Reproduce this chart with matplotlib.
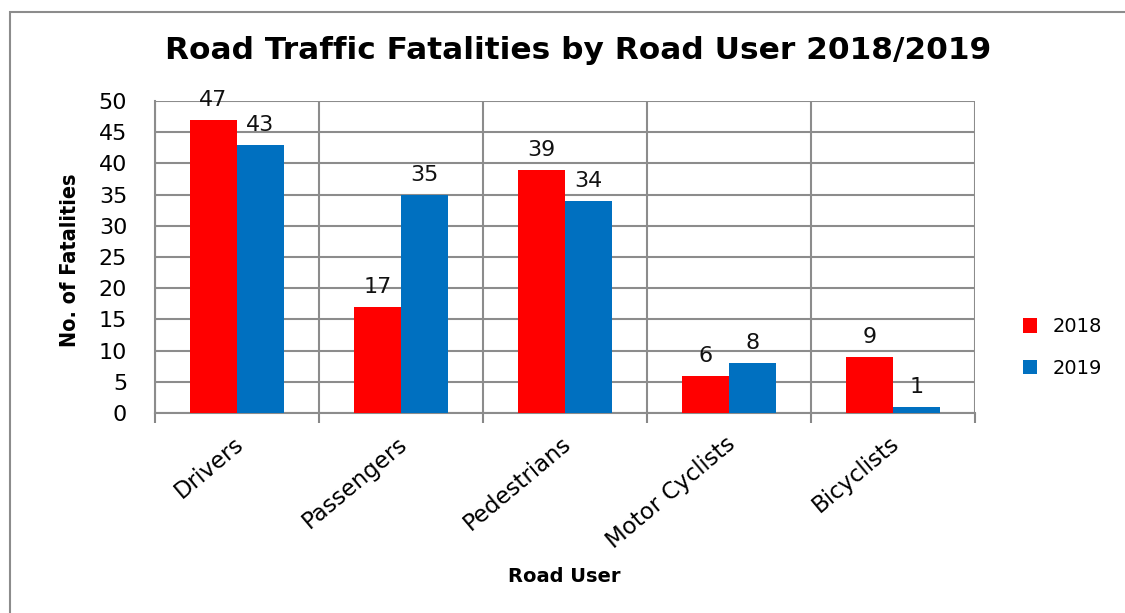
import matplotlib.pyplot as plt
from matplotlib.patches import Rectangle
import numpy as np

# data
road_users = ["Drivers", "Passengers", "Pedestrians", "Motor Cyclists", "Bicyclists"]
fatalities_2018 = [47, 17, 39, 6, 9]
fatalities_2019 = [43, 35, 34, 8, 1]
years = ["2018", "2019"]
colors = ["#FF0000", "#0070C0"]

fig = plt.figure(figsize=(11.25, 6.13), dpi=100)
ax = fig.add_axes([0.1378, 0.3263, 0.7289, 0.5089])

x = np.arange(len(road_users))
w = 0.287
b1 = ax.bar(x - w / 2, fatalities_2018, w, color=colors[0], label=years[0], zorder=3)
b2 = ax.bar(x + w / 2, fatalities_2019, w, color=colors[1], label=years[1], zorder=3)

for bars in (b1, b2):
    for bar in bars:
        h = bar.get_height()
        ax.annotate(f"{h:g}", (bar.get_x() + bar.get_width() / 2, h),
                    xytext=(0, 7), textcoords="offset points",
                    ha="center", va="bottom", fontsize=16, color="#111111")

ax.set_xlim(-0.5, len(road_users) - 0.5)
ax.set_ylim(0, 50)
ax.set_yticks(range(0, 51, 5))
ax.tick_params(axis="y", length=0, labelsize=16, pad=20)

# category boundaries as gridlines / tick marks
bounds = np.arange(-0.5, len(road_users), 1.0)
ax.set_xticks(bounds, minor=True)
ax.set_xticks(x + 0.02)
ax.set_xticklabels(road_users, rotation=40, ha="right", va="center",
                   rotation_mode="anchor", fontsize=16.5)
ax.tick_params(axis="x", which="major", length=0, pad=20)
ax.tick_params(axis="x", which="minor", length=7, color="#888888", width=1.5)
ax.grid(axis="y", color="#8c8c8c", linewidth=1.5, zorder=0)
ax.grid(axis="x", which="minor", color="#8c8c8c", linewidth=1.5, zorder=0)
ax.grid(axis="x", which="major", visible=False)

for side in ("top", "right"):
    ax.spines[side].set_visible(False)
for side in ("left", "bottom"):
    ax.spines[side].set_color("#8c8c8c")
    ax.spines[side].set_linewidth(1.5)

fig.text(0.062, 0.576, "No. of Fatalities", rotation=90, ha="center", va="center",
         family="DejaVu Sans", stretch="condensed", fontweight="bold", fontsize=15.5)
fig.text(0.502, 0.059, "Road User", ha="center", va="center",
         fontweight="bold", fontsize=14)
fig.text(0.514, 0.918, "Road Traffic Fatalities by Road User 2018/2019",
         ha="center", va="center", fontweight="bold", fontsize=22.5)

leg = ax.legend(loc="center left", bbox_to_anchor=(1.058, 0.21), frameon=False,
                fontsize=14, handlelength=0.75, handleheight=0.75, labelspacing=1.15,
                borderaxespad=0, borderpad=0, handletextpad=0.8)

# outer border of the chart area
fig.patches.append(Rectangle((0.009, -0.05), 1.2, 1.03, transform=fig.transFigure,
                             fill=False, edgecolor="#8c8c8c", linewidth=1.5))

fig.savefig("out.png", dpi=100)
